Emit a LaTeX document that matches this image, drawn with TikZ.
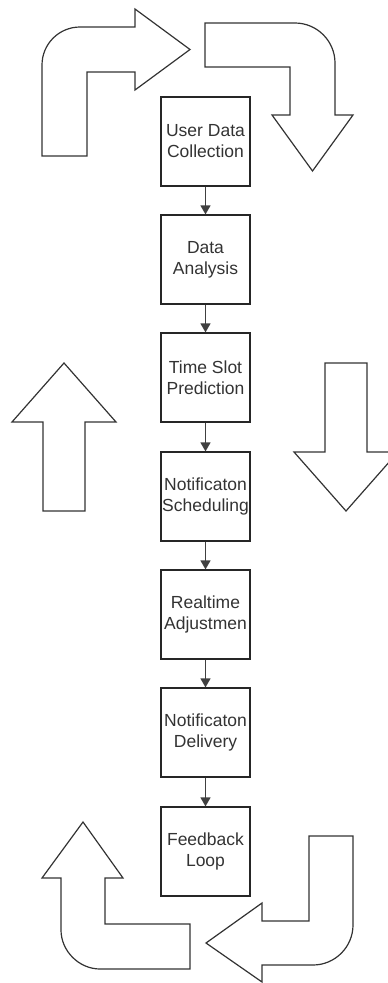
\documentclass[tikz,border=0pt]{standalone}
\usepackage{fontspec}
\setmainfont{Liberation Sans}
\usetikzlibrary{arrows.meta}
\begin{document}
\begin{tikzpicture}[x=1pt,y=-1pt,
  stepbox/.style={draw=black!85, line width=1.2pt, minimum width=89pt, minimum height=89pt, inner sep=0pt, align=center, font=\fontsize{17.5}{21}\selectfont, text=black!80},
  flow/.style={draw=black!75, line width=1.3pt, -{Triangle[length=9pt,width=10pt]}},
  bigarrow/.style={draw=black!80, line width=1.2pt, line join=miter}]
\clip (0,0) rectangle (388,983);
% process boxes
\node[stepbox] (s1) at (205.5,141.5) {User Data\\Collection};
\node[stepbox] (s2) at (205.5,259.5) {Data\\Analysis};
\node[stepbox] (s3) at (205.5,377.5) {Time Slot\\Prediction};
\node[stepbox] (s4) at (205.5,496.5) {Notificaton\\Scheduling};
\node[stepbox] (s5) at (205.5,614.5) {Realtime\\Adjustmen};
\node[stepbox] (s6) at (205.5,732.5) {Notificaton\\Delivery};
\node[stepbox] (s7) at (205.5,851.5) {Feedback\\Loop};
\draw[flow] (s1) -- (s2);
\draw[flow] (s2) -- (s3);
\draw[flow] (s3) -- (s4);
\draw[flow] (s4) -- (s5);
\draw[flow] (s5) -- (s6);
\draw[flow] (s6) -- (s7);
% top-left bent arrow
\draw[bigarrow] (42,156) -- (42,65) .. controls (42,44) and (59,27) .. (80,27) -- (135,27) -- (135,9) -- (190,49.5) -- (135,90) -- (135,72) -- (87,72) -- (87,156) -- cycle;
% top-right bent arrow
\draw[bigarrow] (205,23) -- (295,23) .. controls (317,23) and (335,41) .. (335,63) -- (335,115) -- (353,115) -- (312.5,171) -- (272,115) -- (290,115) -- (290,67) -- (205,67) -- cycle;
% left up arrow
\draw[bigarrow] (64,363) -- (116,422) -- (85,422) -- (85,511) -- (43,511) -- (43,422) -- (12,422) -- cycle;
% right down arrow
\draw[bigarrow] (325,363) -- (367,363) -- (367,452) -- (398,452) -- (346,511) -- (294,452) -- (325,452) -- cycle;
% bottom-left bent arrow
\draw[bigarrow] (83,822) -- (123,878) -- (105,878) -- (105,924) -- (190,924) -- (190,969) -- (100,969) .. controls (79,969) and (61,951) .. (61,930) -- (61,878) -- (42,878) -- cycle;
% bottom-right bent arrow
\draw[bigarrow] (309,836) -- (353,836) -- (353,925) .. controls (353,947) and (335,965) .. (313,965) -- (262,965) -- (262,982) -- (206,943) -- (262,903) -- (262,921) -- (309,921) -- cycle;
\end{tikzpicture}
\end{document}
